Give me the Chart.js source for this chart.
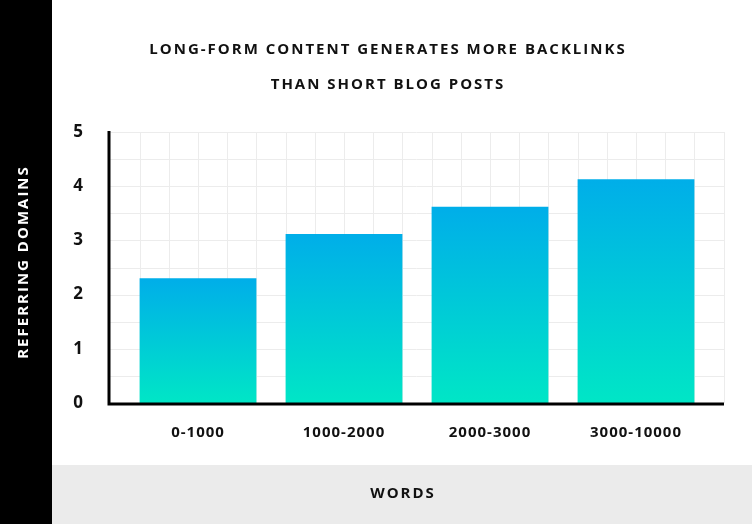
<!DOCTYPE html>
<html>
<head>
<meta charset="utf-8">
<script src="https://cdn.jsdelivr.net/npm/chart.js@4"></script>
<style>
  html, body { margin: 0; padding: 0; background: #fff; }
  #wrap { width: 752px; height: 524px; }
</style>
</head>
<body>
<div id="wrap"><canvas id="chart" width="752" height="524"></canvas></div>
<script>
// --- data ---
const categories = ['0-1000', '1000-2000', '2000-3000', '3000-10000'];
const referringDomains = [2.3, 3.12, 3.62, 4.13];
const yTicks = [0, 1, 2, 3, 4, 5];
const titleLines = ['LONG-FORM CONTENT GENERATES MORE BACKLINKS', 'THAN SHORT BLOG POSTS'];
const yTitle = 'REFERRING DOMAINS';
const xTitle = 'WORDS';

const FONT = '"Open Sans", Lato, sans-serif';

function barGradient(context) {
  const chart = context.chart;
  const y = chart.scales.y;
  if (!y || context.raw == null) return '#00c4dc';
  const top = y.getPixelForValue(context.raw);
  const bottom = y.getPixelForValue(0);
  if (!Number.isFinite(top) || !Number.isFinite(bottom) || top === bottom) return '#00c4dc';
  const g = chart.ctx.createLinearGradient(0, top, 0, bottom);
  g.addColorStop(0, '#00aee9');
  g.addColorStop(1, '#00e6c6');
  return g;
}

// background panels, grid, axes and text
const decor = {
  id: 'decor',
  beforeDraw(chart) {
    const { ctx, chartArea: a, scales } = chart;
    const W = chart.width, H = chart.height;
    ctx.save();
    ctx.fillStyle = '#fff';
    ctx.fillRect(0, 0, W, H);
    ctx.fillStyle = '#ebebeb';
    ctx.fillRect(52, 465, W - 52, H - 465);
    ctx.fillStyle = '#000';
    ctx.fillRect(0, 0, 52, H);

    const left = a.left - 16, right = a.right + 15;
    ctx.strokeStyle = '#ececec';
    ctx.lineWidth = 1;
    for (let v = 0.5; v <= 5; v += 0.5) {
      const py = Math.round(scales.y.getPixelForValue(v)) + 0.5;
      ctx.beginPath(); ctx.moveTo(left, py); ctx.lineTo(right, py); ctx.stroke();
    }
    const w = (a.right - a.left) / categories.length;
    for (let px = a.left + w / 10; px < right; px += w / 5) {
      const x = Math.round(px) + 0.5;
      ctx.beginPath(); ctx.moveTo(x, a.top); ctx.lineTo(x, a.bottom); ctx.stroke();
    }
    ctx.restore();
  },
  afterDatasetsDraw(chart) {
    const { ctx, chartArea: a, scales } = chart;
    const left = a.left - 16, right = a.right + 15;
    ctx.save();
    ctx.strokeStyle = '#000';
    ctx.lineWidth = 3;
    ctx.beginPath();
    ctx.moveTo(left, a.top - 1);
    ctx.lineTo(left, a.bottom + 1);
    ctx.lineTo(right, a.bottom + 1);
    ctx.stroke();

    ctx.fillStyle = '#111';
    ctx.font = 'bold 17px ' + FONT;
    ctx.textAlign = 'center';
    ctx.textBaseline = 'middle';
    yTicks.forEach(v => ctx.fillText(String(v), 78, scales.y.getPixelForValue(v)));

    ctx.font = 'bold 15px ' + FONT;
    ctx.letterSpacing = '1px';
    categories.forEach((c, i) => ctx.fillText(c, scales.x.getPixelForValue(i), 433));

    ctx.font = 'bold 15px ' + FONT;
    ctx.letterSpacing = '2px';
    titleLines.forEach((t, i) => ctx.fillText(t, 388, 50 + i * 35));

    ctx.fillText(xTitle, 403, 494);

    ctx.fillStyle = '#fff';
    ctx.translate(24, 262);
    ctx.rotate(-Math.PI / 2);
    ctx.fillText(yTitle, 0, 0);
    ctx.restore();
  }
};

new Chart(document.getElementById('chart'), {
  type: 'bar',
  data: {
    labels: categories,
    datasets: [{
      data: referringDomains,
      backgroundColor: barGradient,
      borderWidth: 0,
      barPercentage: 0.8,
      categoryPercentage: 1,
    }],
  },
  options: {
    responsive: false,
    animation: false,
    devicePixelRatio: 1,
    layout: { padding: { left: 125, right: 43, top: 132, bottom: 121 } },
    plugins: { legend: { display: false }, tooltip: { enabled: false } },
    scales: {
      x: { display: false, offset: true },
      y: { display: false, min: 0, max: 5 },
    },
  },
  plugins: [decor],
});
</script>
</body>
</html>
